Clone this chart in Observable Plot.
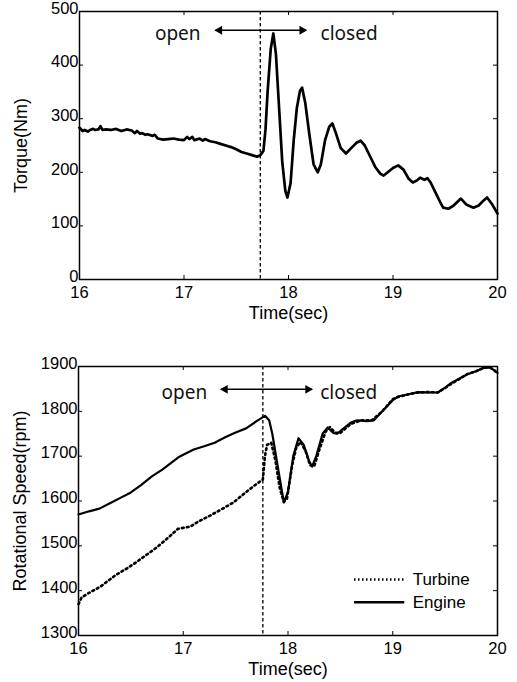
<!DOCTYPE html>
<html><head><meta charset="utf-8">
<script src="https://cdn.jsdelivr.net/npm/d3@7"></script>
<script src="https://cdn.jsdelivr.net/npm/@observablehq/plot@0.6"></script>
<style>body{margin:0;background:#fff;} #c svg{display:block}</style>
</head><body><div id="c"></div>
<script>
const xTicks = [16, 17, 18, 19, 20];
const torqueTicks = [0, 100, 200, 300, 400, 500];
const speedTicks = [1300, 1400, 1500, 1600, 1700, 1800, 1900];

const torqueTime = [16.00,16.03,16.05,16.08,16.10,16.13,16.15,16.18,16.20,16.22,16.25,16.30,16.35,16.40,16.45,16.50,16.53,16.55,16.58,16.60,16.63,16.65,16.70,16.72,16.75,16.80,16.85,16.90,16.95,17.00,17.03,17.05,17.08,17.10,17.15,17.18,17.20,17.25,17.30,17.35,17.40,17.45,17.50,17.55,17.60,17.65,17.70,17.73,17.76,17.78,17.80,17.83,17.855,17.88,17.91,17.94,17.97,17.99,18.02,18.05,18.08,18.11,18.13,18.16,18.20,18.24,18.28,18.31,18.35,18.39,18.42,18.45,18.50,18.55,18.60,18.65,18.69,18.73,18.78,18.83,18.88,18.91,18.95,19.00,19.05,19.10,19.15,19.19,19.23,19.26,19.30,19.33,19.36,19.40,19.45,19.48,19.53,19.58,19.65,19.70,19.77,19.82,19.87,19.90,19.95,20.00];
const torqueNm = [283,277,279,276,279,281,279,280,286,279,280,279,281,277,280,278,273,277,272,273,270,271,268,270,263,261,262,263,261,260,266,262,266,260,263,259,262,258,256,253,250,247,243,238,235,232,229,232,240,280,350,430,459,420,320,220,165,153,180,260,320,352,358,330,270,215,200,215,260,285,291,275,245,235,245,255,259,250,230,210,197,194,200,208,213,205,188,181,185,190,186,189,181,165,145,134,132,138,151,140,134,138,148,153,140,123];

const engineTime = [16.00,16.10,16.20,16.30,16.40,16.50,16.60,16.70,16.80,16.90,16.95,17.00,17.10,17.20,17.30,17.40,17.50,17.60,17.70,17.78,17.82,17.85,17.90,17.96,18.00,18.05,18.10,18.15,18.20,18.23,18.27,18.33,18.38,18.43,18.47,18.52,18.60,18.66,18.75,18.82,18.90,19.00,19.05,19.15,19.24,19.35,19.43,19.50,19.55,19.65,19.71,19.80,19.87,19.92,19.96,20.00];
const engineRpm = [1570,1577,1583,1595,1607,1619,1636,1655,1670,1688,1697,1703,1715,1722,1730,1742,1753,1762,1778,1790,1780,1750,1680,1597,1620,1700,1740,1725,1690,1677,1700,1750,1764,1752,1750,1760,1775,1780,1778,1780,1800,1825,1833,1838,1843,1842,1842,1853,1862,1875,1882,1890,1897,1898,1893,1886];

const turbineTime = [16.00,16.03,16.10,16.21,16.30,16.35,16.45,16.53,16.65,16.75,16.85,16.95,17.07,17.15,17.26,17.37,17.48,17.60,17.70,17.76,17.78,17.80,17.84,17.88,17.92,17.96,17.99,18.04,18.08,18.12,18.17,18.21,18.25,18.30,18.36,18.40,18.45,18.50,18.60,18.70,18.80,18.90,19.00,19.05,19.15,19.24,19.35,19.43,19.50,19.55,19.65,19.71,19.80,19.87,19.92,19.96,20.00];
const turbineRpm = [1370,1385,1395,1409,1425,1434,1448,1460,1480,1497,1517,1538,1543,1555,1568,1582,1597,1620,1638,1648,1700,1725,1730,1690,1630,1598,1605,1680,1720,1732,1710,1680,1677,1715,1755,1765,1752,1752,1772,1780,1780,1800,1827,1832,1838,1842,1843,1842,1852,1860,1874,1883,1890,1897,1899,1894,1884];

const W = 517;
const tickFont = "'Liberation Sans', Arial, sans-serif";
const noteFont = "'Noto Sans', 'Open Sans', sans-serif";

function pts(ts, vs) { return ts.map((t, i) => ({t, v: vs[i]})); }

function panel({height, mt, mb, ml, mr, yDomain, yTicks, yLabel, xLabel, splitAt, note, extra}) {
  const ph = height - mt - mb, pw = W - ml - mr;
  return Plot.plot({
    width: W, height, marginTop: mt, marginBottom: mb, marginLeft: ml, marginRight: mr,
    style: {fontFamily: tickFont, fontSize: "16px", color: "#000", background: "#fff", overflow: "visible"},
    x: {domain: [16, 20]},
    y: {domain: yDomain},
    marks: [
      Plot.axisX(xTicks, {tickSize: 0, tickPadding: 7, fontSize: 16.5, label: null, tickFormat: d => String(d)}),
      Plot.axisY(yTicks, {tickSize: 0, tickPadding: 1, dy: -3, fontSize: 16.5, label: null, tickFormat: d => String(d)}),
      Plot.tickX(xTicks, {x: d => d, insetTop: ph - 4, stroke: "#000"}),
      Plot.tickX(xTicks, {x: d => d, insetBottom: ph - 4, stroke: "#000"}),
      Plot.tickY(yTicks, {y: d => d, insetLeft: pw - 4, stroke: "#000"}),
      Plot.tickY(yTicks, {y: d => d, insetRight: pw - 4, stroke: "#000"}),
      Plot.ruleX([splitAt], {stroke: "#000", strokeWidth: 1.3, strokeDasharray: "3.5,2.5"}),
      ...extra,
      Plot.link([note], {x1: d => d.a1, x2: d => d.a2, y1: d => d.ay, y2: d => d.ay, stroke: "#000", strokeWidth: 1.5}),
      Plot.dot([note], {x: d => d.a1 + 0.04, y: d => d.ay, symbol: "triangle", r: 3.3, fill: "#000", stroke: "none", rotate: -90}),
      Plot.dot([note], {x: d => d.a2 - 0.04, y: d => d.ay, symbol: "triangle", r: 3.3, fill: "#000", stroke: "none", rotate: 90}),
      Plot.text([note], {x: d => d.ox, y: d => d.ty, text: () => "open", fontFamily: noteFont, fontSize: 19, fill: "#111"}),
      Plot.text([note], {x: d => d.cx, y: d => d.ty, text: () => "closed", fontFamily: noteFont, fontSize: 19, fill: "#111"}),
      Plot.frame({stroke: "#000", strokeWidth: 1.5}),
      Plot.text([xLabel], {frameAnchor: "bottom", lineAnchor: "middle", dy: 34, text: d => d, fontSize: 18}),
      Plot.text([yLabel], {frameAnchor: "left", textAnchor: "middle", lineAnchor: "middle", dx: -58, rotate: -90, text: d => d, fontSize: 18})
    ]
  });
}

const torquePanel = panel({
  height: 320, mt: 11, mb: 41, ml: 79, mr: 20,
  yDomain: [0, 500], yTicks: torqueTicks, yLabel: "Torque(Nm)", xLabel: "Time(sec)",
  splitAt: 17.73,
  note: {a1: 17.30, a2: 18.17, ay: 465, ox: 16.94, cx: 18.58, ty: 459},
  extra: [
    Plot.line(pts(torqueTime, torqueNm), {x: "t", y: "v", stroke: "#000", strokeWidth: 2.7, strokeLinejoin: "round"})
  ]
});

const speedPanel = panel({
  height: 362, mt: 46, mb: 47, ml: 78, mr: 20,
  yDomain: [1300, 1900], yTicks: speedTicks, yLabel: "Rotational Speed(rpm)", xLabel: "Time(sec)",
  splitAt: 17.76,
  note: {a1: 17.36, a2: 18.23, ay: 1849, ox: 17.01, cx: 18.58, ty: 1842},
  extra: [
    Plot.line(pts(engineTime, engineRpm), {x: "t", y: "v", stroke: "#000", strokeWidth: 2.2, strokeLinejoin: "round"}),
    Plot.line(pts(turbineTime, turbineRpm), {x: "t", y: "v", stroke: "#000", strokeWidth: 2.6, strokeDasharray: "1.8,3.2"}),
    Plot.link([{t1: 18.63, t2: 19.11, v: 1425}], {x1: "t1", x2: "t2", y1: "v", y2: "v", stroke: "#000", strokeWidth: 2.4, strokeDasharray: "1.5,2.5"}),
    Plot.link([{t1: 18.63, t2: 19.11, v: 1374}], {x1: "t1", x2: "t2", y1: "v", y2: "v", stroke: "#000", strokeWidth: 2.4}),
    Plot.text(["Turbine", "Engine"], {x: 19.19, y: (d, i) => [1425, 1374][i], text: d => d, textAnchor: "start", fontSize: 17})
  ]
});

document.getElementById("c").append(torquePanel, speedPanel);
</script>
</body></html>
